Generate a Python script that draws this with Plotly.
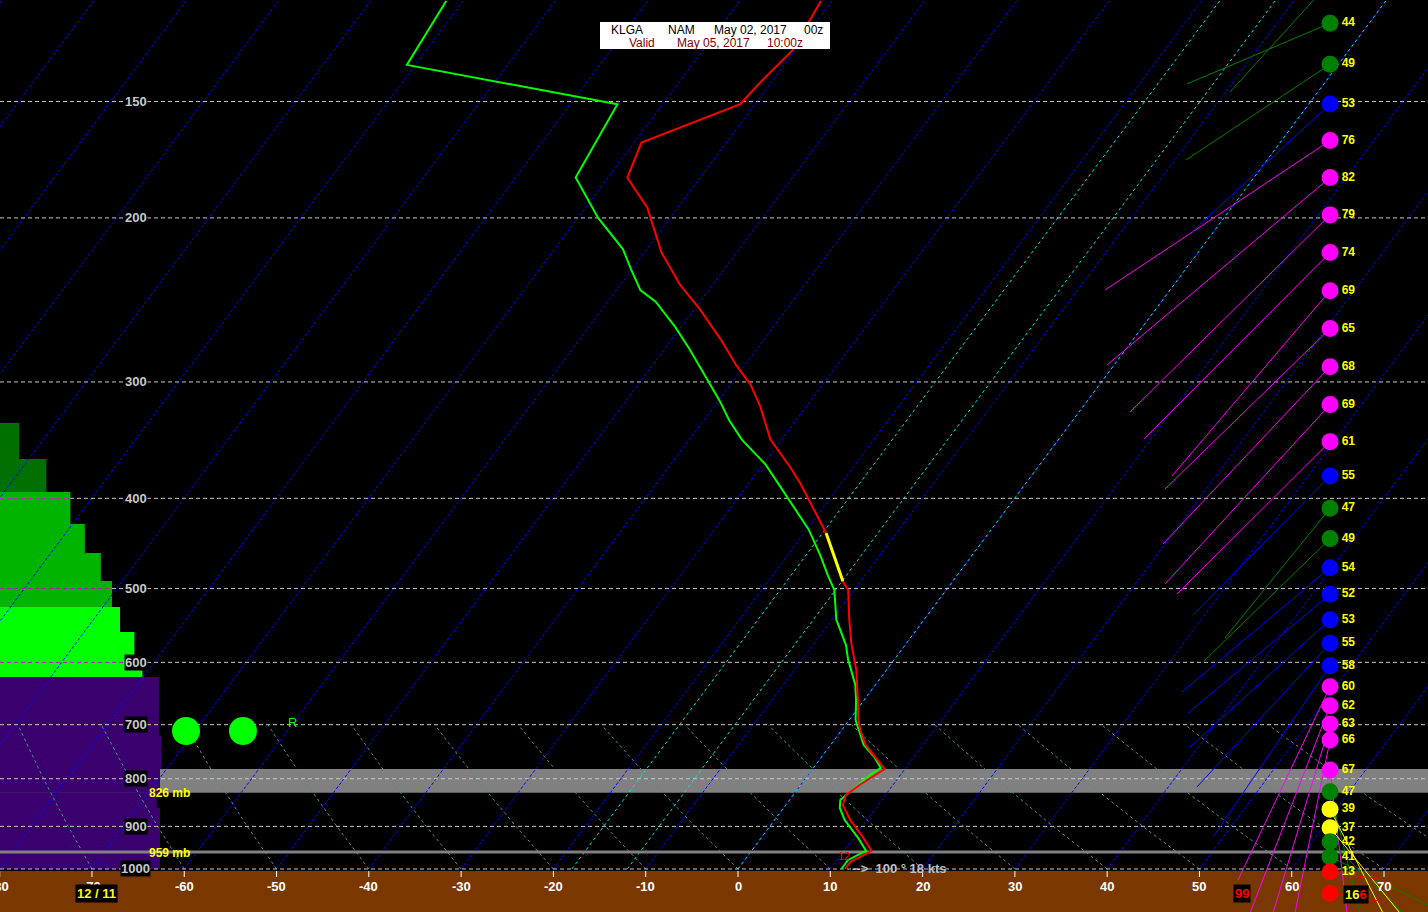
import numpy as np
import plotly.graph_objects as go

# ---------------- data ----------------
TEMP_P = [1000, 983, 956, 922, 886, 854, 833, 812, 781, 758, 736, 709, 692, 658, 611, 575, 540, 502, 491, 436,
          412, 385, 370, 346, 318, 302, 288, 270, 251, 236, 218, 195, 181, 166, 151, 143, 132, 117]
TEMP_C = [11.6, 11.6, 13.0, 10.8, 8.2, 6.2, 5.7, 6.4, 7.8, 5.8, 3.8, 2.0, 1.0, -0.7, -3.3, -5.8, -8.1, -10.6, -11.9, -17.6,
          -20.7, -24.5, -26.9, -31.2, -35.1, -37.8, -40.9, -44.7, -49.3, -53.5, -58.1, -63.3, -67.9, -69.2, -61.6, -61.2, -60.3, -61.2]
DEWP_P = [1000, 978, 956, 926, 886, 860, 843, 823, 793, 779, 758, 736, 709, 692, 658, 634, 596, 575, 540, 502,
          484, 460, 432, 410, 389, 368, 346, 330, 314, 295, 277, 262, 246, 239, 227, 216, 211, 200, 181, 151, 137, 117]
DEWP_C = [11.2, 11.2, 12.4, 10.5, 7.6, 6.1, 5.5, 6.0, 6.7, 7.3, 5.7, 3.6, 1.8, 0.7, -0.9, -2.2, -5.0, -6.4, -9.5, -12.1,
          -14.0, -16.5, -19.8, -23.0, -26.3, -29.7, -34.3, -37.2, -39.9, -43.5, -47.2, -50.6, -54.8, -57.4, -60.1, -62.6, -64.2, -67.8, -73.5, -74.9, -100.9, -101.8]

ISOBARS = [150, 200, 300, 400, 500, 600, 700, 800, 900, 1000]
T_TICKS = list(range(-80, 71, 10))
DGZ_ISOTHERMS = [-18, -12, 0]

CLOUD_TOP_P = [332.0, 362.9, 393.8, 426.2, 457.9, 490.7, 523.2, 556.6, 589.2, 622.1, 720, 781, 828, 860]
CLOUD_BOT_P = [362.9, 393.8, 426.2, 457.9, 490.7, 523.2, 556.6, 589.2, 622.1, 720, 781, 828, 860, 1000]
CLOUD_PCT = [12, 29, 44, 53, 63, 70, 75, 84, 89, 99.4, 101, 100, 98, 100]
CLOUD_CLR = ['#007000', '#007000', '#00b400', '#00b400', '#00b400', '#00b400', '#00ff00', '#00ff00', '#00ff00',
             '#3a006e', '#3a006e', '#3a006e', '#3a006e', '#3a006e']

RH_P = [111.6, 123.6, 136.8, 150.9, 165.2, 181.0, 198.5, 217.9, 239.4, 262.9, 288.9, 317.3, 347.7, 378.5, 410.0,
        441.9, 474.8, 507.1, 539.9, 572.4, 605.0, 637.3, 668.0, 698.8, 726.9, 783.0, 826.0, 862.8, 903.0, 934.7,
        970.0, 1006.7, 1061.9]
RH_VAL = [45, 44, 49, 53, 76, 82, 79, 74, 69, 65, 68, 69, 61, 55, 47, 49, 54, 52, 53, 55, 58, 60, 62, 63, 66, 67,
          47, 39, 37, 42, 41, 13, 16]
VEC_END_X = [53.31, 48.65, 48.54, 49.19, 39.77, 39.98, 42.48, 43.99, 47.03, 46.27, 46.05, 46.27, 47.57, 49.30,
             52.77, 50.49, 48.11, 48.76, 48.98, 49.73, 51.47, 54.18, 55.48, 57.97, 60.35, 65.99, 67.40, 69.89,
             71.73, 72.06, 74.76, 70.11, 70.11]
VEC_END_P = [146.5, 143.6, 173.3, 207.0, 239.0, 287.7, 323.1, 345.4, 378.5, 390.9, 447.8, 494.3, 506.7, 533.7,
             564.9, 598.0, 645.6, 679.9, 739.6, 816.5, 924.0, 1027.6, 1115, 1115, 1115, 1115, 1115, 1115, 1115,
             1115, 1093, 1027.6, 1085]
RH_COL_X = 64.15

PRECIP_P = 711
PRECIP_X = [-59.81, -53.64]

# ---------------- geometry ----------------
W, H = 1428, 912
SKEW = 32.71
X0_PX, PX_PER_C = 738.0, 9.229
X_RANGE = [-X0_PX / PX_PER_C, (W - X0_PX) / PX_PER_C]
P_BOTTOM, P_TOP = 1112.2, 116.7
FONT = 'Liberation Sans'


def sx(t, p):
    return np.asarray(t, float) + SKEW * np.log(1000.0 / np.asarray(p, float))


def px(x):
    return x / W


def py(y):
    return 1 - y / H


def lg(p):
    return float(np.log10(p))


def pp_(p):
    """pressure -> paper y fraction"""
    return (lg(P_BOTTOM) - lg(p)) / (lg(P_BOTTOM) - lg(P_TOP))


def xp(t):
    """axis x value -> paper x fraction"""
    return (X0_PX + t * PX_PER_C) / W


fig = go.Figure()

# isotherms (blue)
xs, ys = [], []
for t in range(-150, 91, 10):
    pp = np.array([1000.0, P_TOP])
    xs += list(sx([t, t], pp)) + [None]
    ys += list(pp) + [None]
fig.add_trace(go.Scatter(x=xs, y=ys, mode='lines', line=dict(color='#0000ff', width=1, dash='3px,2px'),
                         hoverinfo='skip'))

# DGZ / freezing isotherms (cyan)
xs, ys = [], []
for t in DGZ_ISOTHERMS:
    pp = np.array([1000.0, P_TOP])
    xs += list(sx([t, t], pp)) + [None]
    ys += list(pp) + [None]
fig.add_trace(go.Scatter(x=xs, y=ys, mode='lines', line=dict(color='#00e8e8', width=1, dash='3px,3px'),
                         hoverinfo='skip'))

# dry adiabats 1000-700
xs, ys = [], []
pp = np.linspace(1000, 700, 31)
for t0 in range(-80, 81, 10):
    th = t0 + 273.15
    tt = th * (pp / 1000.0) ** 0.2857 - 273.15
    xs += list(sx(tt, pp)) + [None]
    ys += list(pp) + [None]
fig.add_trace(go.Scatter(x=xs, y=ys, mode='lines', line=dict(color='#4d8f8f', width=1, dash='3px,3px'),
                         hoverinfo='skip'))

# isobars
xs, ys = [], []
for p in ISOBARS:
    xs += [X_RANGE[0], X_RANGE[1], None]
    ys += [p, p, None]
fig.add_trace(go.Scatter(x=xs, y=ys, mode='lines', line=dict(color='#c8c8c8', width=1, dash='4px,3px'),
                         hoverinfo='skip'))

# isobar sections over the green cloud bars appear magenta
xs, ys = [], []
for p in ISOBARS:
    for top, bot, pct, c in zip(CLOUD_TOP_P, CLOUD_BOT_P, CLOUD_PCT, CLOUD_CLR):
        if top <= p <= bot and c != '#3a006e':
            xs += [X_RANGE[0], (pct * 1.6 - X0_PX) / PX_PER_C, None]
            ys += [p, p, None]
fig.add_trace(go.Scatter(x=xs, y=ys, mode='lines', line=dict(color='#c000c0', width=1, dash='4px,3px'),
                         hoverinfo='skip'))

# 959 mb line
fig.add_trace(go.Scatter(x=X_RANGE, y=[959, 959], mode='lines', line=dict(color='#808080', width=3),
                         hoverinfo='skip'))

# profiles
fig.add_trace(go.Scatter(x=sx(DEWP_C, DEWP_P), y=DEWP_P, mode='lines', line=dict(color='#00ff00', width=2),
                         hoverinfo='skip'))
fig.add_trace(go.Scatter(x=sx(TEMP_C, TEMP_P), y=TEMP_P, mode='lines', line=dict(color='#ff0000', width=2),
                         hoverinfo='skip'))
tc = np.array(TEMP_C)
tp = np.array(TEMP_P)
m = (tc <= -11.5) & (tc >= -18)
fig.add_trace(go.Scatter(x=sx(tc[m], tp[m]), y=tp[m], mode='lines', line=dict(color='#ffff00', width=3),
                         hoverinfo='skip'))


# RH column with vectors
def rh_color(v):
    if v < 30:
        return '#ff0000'
    if v < 40:
        return '#ffff00'
    if v < 50:
        return '#008000'
    if v < 60:
        return '#0000ff'
    return '#ff00ff'


cols = [rh_color(v) for v in RH_VAL]
for c in ['#ff00ff', '#0000ff', '#008000', '#ffff00', '#ff0000']:
    xs, ys = [], []
    for i, v in enumerate(RH_VAL):
        if cols[i] == c:
            xs += [RH_COL_X, VEC_END_X[i], None]
            ys += [RH_P[i], VEC_END_P[i], None]
    fig.add_trace(go.Scatter(x=xs, y=ys, mode='lines', line=dict(color=c, width=1), hoverinfo='skip'))

labels = [str(v) if (p > P_TOP * 1.04 and i < len(RH_VAL) - 1) else '' for i, (v, p) in enumerate(zip(RH_VAL, RH_P))]
fig.add_trace(go.Scatter(x=[RH_COL_X] * len(RH_P), y=RH_P, mode='markers+text',
                         marker=dict(size=17, color=cols, line=dict(width=0)),
                         text=labels, textposition='middle right',
                         textfont=dict(color='#ffff00', size=12, family=FONT, weight='bold'),
                         hoverinfo='skip'))

# precip-type markers
fig.add_trace(go.Scatter(x=PRECIP_X, y=[PRECIP_P] * 2, mode='markers',
                         marker=dict(size=28, color='#00ff00'), hoverinfo='skip'))

# bottom tick marks
xs, ys = [], []
for t in T_TICKS:
    xs += [t, t, None]
    ys += [1005, 1020, None]
fig.add_trace(go.Scatter(x=xs, y=ys, mode='lines', line=dict(color='#ffffff', width=1), hoverinfo='skip'))

shapes = []
# ground
shapes.append(dict(type='rect', xref='paper', yref='paper', x0=0, x1=1, y0=0, y1=pp_(1005),
                   fillcolor='#7a3800', line=dict(width=0), layer='below'))
# grey band
shapes.append(dict(type='rect', xref='paper', yref='paper', x0=0, x1=1, y0=pp_(828), y1=pp_(781),
                   fillcolor='#808080', line=dict(width=0), layer='below'))
# cloud bars
for top, bot, pct, c in zip(CLOUD_TOP_P, CLOUD_BOT_P, CLOUD_PCT, CLOUD_CLR):
    shapes.append(dict(type='rect', xref='paper', yref='paper', x0=0, x1=px(pct * 1.6), y0=pp_(bot), y1=pp_(top),
                       fillcolor=c, line=dict(width=0), layer='below'))
# title box
shapes.append(dict(type='rect', xref='paper', yref='paper', x0=px(600), x1=px(830), y0=py(49), y1=py(22),
                   fillcolor='#ffffff', line=dict(width=0), layer='above'))

ann = []
for p in ISOBARS:
    ann.append(dict(xref='paper', yref='paper', x=px(148 if p < 1000 else 151), y=pp_(p), xanchor='right',
                    yanchor='middle', text='<b>%d</b>' % p, showarrow=False, bgcolor='#000000', borderpad=0,
                    font=dict(color='#c8c8c8', size=13, family=FONT)))
for t in T_TICKS:
    ann.append(dict(xref='paper', yref='paper', x=xp(t), y=py(886), xanchor='center', yanchor='middle',
                    text='<b>%d</b>' % t, showarrow=False, font=dict(color='#ffffff', size=13, family=FONT)))

ann.append(dict(xref='paper', yref='paper', x=px(147), y=pp_(829), xanchor='left', yanchor='middle',
                text='<b>826 mb</b>', showarrow=False, font=dict(color='#ffff00', size=12, family=FONT)))
ann.append(dict(xref='paper', yref='paper', x=px(147), y=pp_(962), xanchor='left', yanchor='middle',
                text='<b>959 mb</b>', showarrow=False, font=dict(color='#ffff00', size=12, family=FONT)))
ann.append(dict(xref='paper', yref='paper', x=px(286), y=pp_(697), xanchor='left', yanchor='middle',
                text='R', showarrow=False, font=dict(color='#00ff00', size=13, family=FONT)))

ann.append(dict(xref='paper', yref='paper', x=px(96), y=py(893), xanchor='center', yanchor='middle',
                text='<b>12 / 11</b>', showarrow=False, bgcolor='#000000', borderpad=1,
                font=dict(color='#ffff00', size=13, family=FONT)))
ann.append(dict(xref='paper', yref='paper', x=px(1242), y=py(893), xanchor='center', yanchor='middle',
                text='<b>99</b>', showarrow=False, bgcolor='#000000', borderpad=1,
                font=dict(color='#ff0000', size=13, family=FONT)))
ann.append(dict(xref='paper', yref='paper', x=px(1343), y=py(894), xanchor='left', yanchor='middle',
                text="<b><span style='color:#ffff00'>16</span><span style='color:#ff0000'>6</span></b>",
                showarrow=False, bgcolor='#000000', borderpad=1, font=dict(size=13, family=FONT)))
ann.append(dict(xref='paper', yref='paper', x=px(850), y=py(868), xanchor='left', yanchor='middle',
                text="<b>-->  100 ° 18 kts</b>", showarrow=False,
                font=dict(color='#c0c0c0', size=13, family=FONT)))
ann.append(dict(xref='paper', yref='paper', x=px(844), y=py(856), xanchor='center', yanchor='middle',
                text="12", showarrow=False, font=dict(color='#ff0000', size=11, family=FONT)))

# title
for txt, x0, y0, c in [('KLGA', 609, 30, '#000000'), ('NAM', 666, 30, '#000000'),
                       ('May 02, 2017', 712, 30, '#000000'), ('00z', 802, 30, '#000000'),
                       ('Valid', 627, 43, '#800000'), ('May 05, 2017', 675, 43, '#800000'),
                       ('10:00z', 765, 43, '#800000')]:
    ann.append(dict(xref='paper', yref='paper', x=px(x0), y=py(y0), xanchor='left', yanchor='middle',
                    text=txt, showarrow=False, font=dict(color=c, size=12, family=FONT)))

fig.update_layout(
    width=W, height=H, margin=dict(l=0, r=0, t=0, b=0),
    paper_bgcolor='#000000', plot_bgcolor='#000000', showlegend=False,
    xaxis=dict(range=X_RANGE, visible=False, fixedrange=True),
    yaxis=dict(type='log', range=[lg(P_BOTTOM), lg(P_TOP)], visible=False, fixedrange=True),
    shapes=shapes, annotations=ann,
)

fig.write_html("out.html", config={'displayModeBar': False},
               post_script="document.body.style.margin='0';")
